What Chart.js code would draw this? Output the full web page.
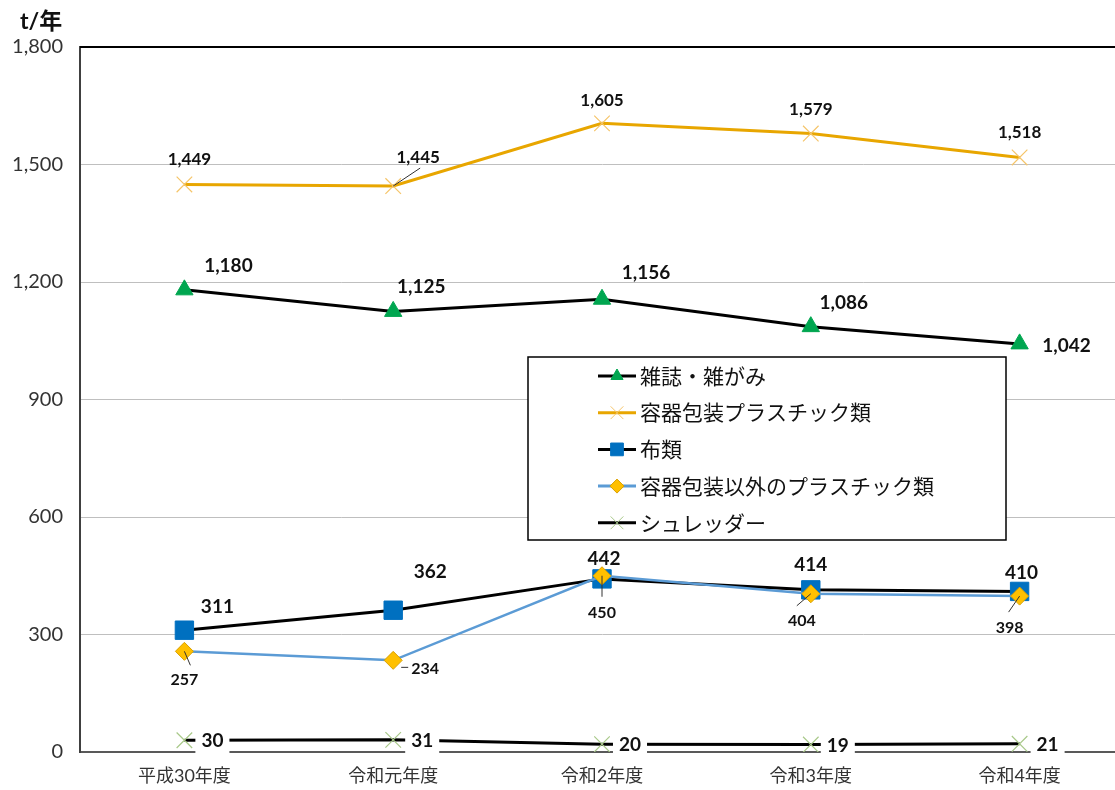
<!DOCTYPE html>
<html lang="ja">
<head>
<meta charset="UTF-8">
<title>資源物の収集量</title>
<script src="https://cdn.jsdelivr.net/npm/chart.js"></script>
<style>
    html, body { margin: 0; padding: 0; background: #fff; overflow: hidden; }
    #wrap { width: 1125px; height: 790px; }
</style>
</head>
<body>
<div id="wrap"><canvas id="chart" width="1125" height="790" style="width:1125px;height:790px"></canvas></div>
<script>
    // data
    const years = ["平成30年度", "令和元年度", "令和2年度", "令和3年度", "令和4年度"];
    const magazines = [1180, 1125, 1156, 1086, 1042];
    const packagingPlastic = [1449, 1445, 1605, 1579, 1518];
    const cloth = [311, 362, 442, 414, 410];
    const otherPlastic = [257, 234, 450, 404, 398];
    const shredder = [30, 31, 20, 19, 21];
    const yTicks = [0, 300, 600, 900, 1200, 1500, 1800];

    const FONT = "Lato, 'Noto Sans CJK JP', sans-serif";
    const fmt = v => v.toLocaleString("en-US");

    // label placement per series: [dx, dy] from the point, optional leader end
    const labelCfg = [
        { size: 19, pos: [[44, -24], [28, -25], [44, -26], [33, -24], [47, 2]] },
        { size: 17, pos: [[5, -25], [25, -29], [0, -23], [0, -24], [0, -25]],
          lead: [null, [27, -18], null, null, null] },
        { size: 19, pos: [[33, -23], [37, -38], [2, -20], [0, -25], [2, -19]] },
        { size: 16, pos: [[0, 29], [32, 8], [0, 37], [-9, 27], [-10, 32]],
          lead: [[6, 14], [[8, 7], [15, 7]], [0, 21], [-14, 12], [-11, 16]] },
        { size: 19, pos: [[28, 1], [29, 1], [28, 1], [27, 1], [28, 1]], box: true }
    ];

    const legendItems = [
        { text: "雑誌・雑がみ", line: "#000", style: "triangle", fill: "#00A650", border: "#00A650", r: 7 },
        { text: "容器包装プラスチック類", line: "#E8A600", style: "crossRot", fill: "#F5C56A", border: "#F5C56A", r: 9 },
        { text: "布類", line: "#000", style: "rect", fill: "#0070C0", border: "#0070C0", r: 9 },
        { text: "容器包装以外のプラスチック類", line: "#5B9BD5", style: "rectRot", fill: "#FFC000", border: "#D9A000", r: 7 },
        { text: "シュレッダー", line: "#000", style: "crossRot", fill: "#A9C98A", border: "#A9C98A", r: 9 }
    ];

    const overlay = {
        id: "overlay",
        afterDatasetsDraw(chart) {
            const ctx = chart.ctx;
            ctx.save();
            chart.data.datasets.forEach((ds, i) => {
                const meta = chart.getDatasetMeta(i);
                const cfg = labelCfg[i];
                meta.data.forEach((pt, j) => {
                    const [dx, dy] = cfg.pos[j];
                    const lx = pt.x + dx, ly = pt.y + dy;
                    if (cfg.lead && cfg.lead[j]) {
                        const l = cfg.lead[j];
                        ctx.strokeStyle = "#333";
                        ctx.lineWidth = 1;
                        ctx.beginPath();
                        if (Array.isArray(l[0])) {
                            ctx.moveTo(pt.x + l[0][0], pt.y + l[0][1]);
                            ctx.lineTo(pt.x + l[1][0], pt.y + l[1][1]);
                        } else {
                            ctx.moveTo(pt.x, pt.y);
                            ctx.lineTo(pt.x + l[0], pt.y + l[1]);
                        }
                        ctx.stroke();
                    }
                    const txt = fmt(ds.data[j]);
                    ctx.font = "bold " + cfg.size + "px " + FONT;
                    if (cfg.box) {
                        const w = ctx.measureText(txt).width;
                        ctx.fillStyle = "#fff";
                        ctx.fillRect(lx - w / 2 - 6, ly - 12, w + 12, 26);
                    }
                    ctx.fillStyle = "#111";
                    ctx.textAlign = "center";
                    ctx.textBaseline = "middle";
                    ctx.fillText(txt, lx, ly);
                });
            });
            ctx.restore();
        },
        afterDraw(chart) {
            const ctx = chart.ctx;
            const area = chart.chartArea;
            ctx.save();
            // top frame line
            ctx.strokeStyle = "#000";
            ctx.lineWidth = 2;
            ctx.beginPath();
            ctx.moveTo(area.left, area.top);
            ctx.lineTo(chart.width, area.top);
            ctx.stroke();

            // unit title
            ctx.fillStyle = "#111";
            ctx.font = "bold 23px " + FONT;
            ctx.textAlign = "left";
            ctx.textBaseline = "middle";
            ctx.fillText("t/年", 20, 22);

            // legend box
            const bx = 528, by = 357, bw = 478, bh = 183;
            ctx.fillStyle = "#fff";
            ctx.fillRect(bx, by, bw, bh);
            ctx.strokeStyle = "#000";
            ctx.lineWidth = 1.5;
            ctx.strokeRect(bx, by, bw, bh);
            legendItems.forEach((it, k) => {
                const y = by + 19 + k * 36.7;
                ctx.strokeStyle = it.line;
                ctx.lineWidth = 3;
                ctx.beginPath();
                ctx.moveTo(598, y);
                ctx.lineTo(636, y);
                ctx.stroke();
                ctx.fillStyle = it.fill;
                ctx.strokeStyle = it.border;
                ctx.lineWidth = 1;
                Chart.helpers.drawPoint(ctx, { pointStyle: it.style, radius: it.r, rotation: 0, borderWidth: 1 }, 617, y);
                ctx.fillStyle = "#111";
                ctx.font = "21px " + FONT;
                ctx.textAlign = "left";
                ctx.textBaseline = "middle";
                ctx.fillText(it.text, 640, y + 1);
            });
            ctx.restore();
        }
    };

    new Chart(document.getElementById("chart"), {
        type: "line",
        data: {
            labels: years,
            datasets: [
                { label: "雑誌・雑がみ", data: magazines, borderColor: "#000", borderWidth: 3,
                  pointStyle: "triangle", pointRadius: 10, pointBackgroundColor: "#00A650",
                  pointBorderColor: "#00A650", pointBorderWidth: 1, order: 1 },
                { label: "容器包装プラスチック類", data: packagingPlastic, borderColor: "#E8A600", borderWidth: 3,
                  pointStyle: "crossRot", pointRadius: 11, pointBorderColor: "#F5C56A",
                  pointBorderWidth: 1.2, order: 2 },
                { label: "布類", data: cloth, borderColor: "#000", borderWidth: 3,
                  pointStyle: "rect", pointRadius: 13, pointBackgroundColor: "#0070C0",
                  pointBorderColor: "#0070C0", pointBorderWidth: 1, order: 4 },
                { label: "容器包装以外のプラスチック類", data: otherPlastic, borderColor: "#5B9BD5", borderWidth: 2.5,
                  pointStyle: "rectRot", pointRadius: 9, pointBackgroundColor: "#FFC000",
                  pointBorderColor: "#D9A000", pointBorderWidth: 1, order: 3 },
                { label: "シュレッダー", data: shredder, borderColor: "#000", borderWidth: 3,
                  pointStyle: "crossRot", pointRadius: 11, pointBorderColor: "#A9C98A",
                  pointBorderWidth: 1.2, order: 5 }
            ]
        },
        options: {
            responsive: false,
            animation: false,
            layout: { autoPadding: false, padding: { top: 47, left: 0, right: 1, bottom: 0 } },
            plugins: { legend: { display: false }, tooltip: { enabled: false } },
            elements: { line: { tension: 0 } },
            scales: {
                x: {
                    offset: true,
                    grid: { display: false, drawTicks: false },
                    border: { color: "#595959", width: 2 },
                    ticks: { color: "#333", padding: 13, font: { family: FONT, size: 18 }, maxRotation: 0 },
                    afterFit(s) { s.height = 38; }
                },
                y: {
                    min: 0, max: 1800,
                    afterBuildTicks(s) { s.ticks = yTicks.map(v => ({ value: v })); },
                    grid: {
                        drawTicks: false,
                        color: c => (c.tick && (c.tick.value === 0 || c.tick.value === 1800)) ? "rgba(0,0,0,0)" : "#BFBFBF",
                        lineWidth: 1
                    },
                    border: { color: "#404040", width: 2 },
                    ticks: { color: "#333", padding: 17, font: { family: FONT, size: 20 }, callback: v => fmt(v) },
                    afterFit(s) { s.width = 80; }
                }
            }
        },
        plugins: [overlay]
    });
</script>
</body>
</html>
